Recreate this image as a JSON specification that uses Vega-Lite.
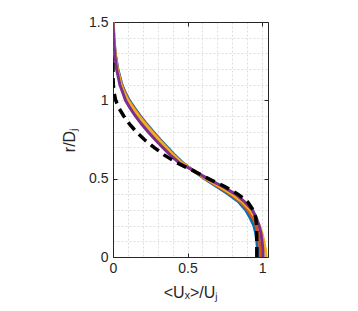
{
  "$schema": "https://vega.github.io/schema/vega-lite/v6.json",
  "autosize": {"type": "none"},
  "width": 155,
  "height": 235,
  "padding": {"left": 113, "top": 22, "right": 90, "bottom": 54},
  "background": "white",
  "config": {
    "view": {"stroke": null},
    "font": "Liberation Sans",
    "axis": {
      "labelFont": "Liberation Sans",
      "titleFont": "Liberation Sans",
      "labelFontSize": 14,
      "titleFontSize": 16,
      "titleFontWeight": "normal",
      "labelColor": "#262626",
      "titleColor": "#262626",
      "tickColor": "#262626",
      "labelFlush": false,
      "domain": true,
      "domainColor": "#262626",
      "domainWidth": 1,
      "gridColor": "#dedede",
      "gridDash": [2, 2],
      "gridWidth": 1
    }
  },
  "data": {"values": [
    {"s":"b","r":0,"u":0.972},{"s":"b","r":0.05,"u":0.97},{"s":"b","r":0.1,"u":0.965},{"s":"b","r":0.15,"u":0.958},{"s":"b","r":0.2,"u":0.945},{"s":"b","r":0.25,"u":0.92},{"s":"b","r":0.3,"u":0.89},{"s":"b","r":0.35,"u":0.845},{"s":"b","r":0.4,"u":0.775},{"s":"b","r":0.45,"u":0.695},{"s":"b","r":0.5,"u":0.615},{"s":"b","r":0.55,"u":0.54},{"s":"b","r":0.6,"u":0.47},{"s":"b","r":0.65,"u":0.415},{"s":"b","r":0.7,"u":0.365},{"s":"b","r":0.75,"u":0.316},{"s":"b","r":0.8,"u":0.27},{"s":"b","r":0.85,"u":0.225},{"s":"b","r":0.9,"u":0.183},{"s":"b","r":0.95,"u":0.145},{"s":"b","r":1.0,"u":0.11},{"s":"b","r":1.05,"u":0.082},{"s":"b","r":1.1,"u":0.06},{"s":"b","r":1.2,"u":0.032},{"s":"b","r":1.3,"u":0.015},{"s":"b","r":1.4,"u":0.006},{"s":"b","r":1.5,"u":0.002},
    {"s":"o","r":0,"u":0.99},{"s":"o","r":0.05,"u":0.988},{"s":"o","r":0.1,"u":0.982},{"s":"o","r":0.15,"u":0.974},{"s":"o","r":0.2,"u":0.96},{"s":"o","r":0.25,"u":0.938},{"s":"o","r":0.3,"u":0.905},{"s":"o","r":0.35,"u":0.857},{"s":"o","r":0.4,"u":0.788},{"s":"o","r":0.45,"u":0.705},{"s":"o","r":0.5,"u":0.62},{"s":"o","r":0.55,"u":0.54},{"s":"o","r":0.6,"u":0.466},{"s":"o","r":0.65,"u":0.41},{"s":"o","r":0.7,"u":0.36},{"s":"o","r":0.75,"u":0.311},{"s":"o","r":0.8,"u":0.265},{"s":"o","r":0.85,"u":0.22},{"s":"o","r":0.9,"u":0.178},{"s":"o","r":0.95,"u":0.14},{"s":"o","r":1.0,"u":0.105},{"s":"o","r":1.05,"u":0.078},{"s":"o","r":1.1,"u":0.057},{"s":"o","r":1.2,"u":0.03},{"s":"o","r":1.3,"u":0.014},{"s":"o","r":1.4,"u":0.005},{"s":"o","r":1.5,"u":0.001},
    {"s":"y","r":0,"u":1.028},{"s":"y","r":0.05,"u":1.022},{"s":"y","r":0.1,"u":1.012},{"s":"y","r":0.15,"u":1.0},{"s":"y","r":0.2,"u":0.982},{"s":"y","r":0.25,"u":0.955},{"s":"y","r":0.3,"u":0.92},{"s":"y","r":0.35,"u":0.87},{"s":"y","r":0.4,"u":0.8},{"s":"y","r":0.45,"u":0.715},{"s":"y","r":0.5,"u":0.625},{"s":"y","r":0.55,"u":0.542},{"s":"y","r":0.6,"u":0.462},{"s":"y","r":0.65,"u":0.405},{"s":"y","r":0.7,"u":0.355},{"s":"y","r":0.75,"u":0.306},{"s":"y","r":0.8,"u":0.26},{"s":"y","r":0.85,"u":0.215},{"s":"y","r":0.9,"u":0.173},{"s":"y","r":0.95,"u":0.135},{"s":"y","r":1.0,"u":0.1},{"s":"y","r":1.05,"u":0.074},{"s":"y","r":1.1,"u":0.054},{"s":"y","r":1.2,"u":0.028},{"s":"y","r":1.3,"u":0.013},{"s":"y","r":1.4,"u":0.005},{"s":"y","r":1.5,"u":0.001},
    {"s":"p","r":0,"u":1.007},{"s":"p","r":0.05,"u":1.005},{"s":"p","r":0.1,"u":1.0},{"s":"p","r":0.15,"u":0.993},{"s":"p","r":0.2,"u":0.98},{"s":"p","r":0.25,"u":0.962},{"s":"p","r":0.3,"u":0.935},{"s":"p","r":0.35,"u":0.885},{"s":"p","r":0.4,"u":0.825},{"s":"p","r":0.45,"u":0.735},{"s":"p","r":0.5,"u":0.635},{"s":"p","r":0.55,"u":0.545},{"s":"p","r":0.6,"u":0.445},{"s":"p","r":0.65,"u":0.385},{"s":"p","r":0.7,"u":0.333},{"s":"p","r":0.75,"u":0.282},{"s":"p","r":0.8,"u":0.235},{"s":"p","r":0.85,"u":0.19},{"s":"p","r":0.9,"u":0.15},{"s":"p","r":0.95,"u":0.115},{"s":"p","r":1.0,"u":0.084},{"s":"p","r":1.05,"u":0.065},{"s":"p","r":1.1,"u":0.046},{"s":"p","r":1.2,"u":0.024},{"s":"p","r":1.3,"u":0.011},{"s":"p","r":1.4,"u":0.004},{"s":"p","r":1.5,"u":0.0},
    {"s":"k","r":0,"u":0.965},{"s":"k","r":0.1,"u":0.965},{"s":"k","r":0.2,"u":0.963},{"s":"k","r":0.25,"u":0.958},{"s":"k","r":0.3,"u":0.94},{"s":"k","r":0.35,"u":0.905},{"s":"k","r":0.4,"u":0.84},{"s":"k","r":0.45,"u":0.75},{"s":"k","r":0.5,"u":0.64},{"s":"k","r":0.55,"u":0.54},{"s":"k","r":0.6,"u":0.43},{"s":"k","r":0.65,"u":0.345},{"s":"k","r":0.7,"u":0.275},{"s":"k","r":0.75,"u":0.21},{"s":"k","r":0.8,"u":0.155},{"s":"k","r":0.85,"u":0.11},{"s":"k","r":0.9,"u":0.072},{"s":"k","r":0.95,"u":0.04},{"s":"k","r":1.0,"u":0.018},{"s":"k","r":1.05,"u":0.007},{"s":"k","r":1.1,"u":0.002},{"s":"k","r":1.15,"u":0.0},{"s":"k","r":1.24,"u":0.0}
  ]},
  "resolve": {"axis": {"x": "independent", "y": "independent"}},
  "layer": [
    {
      "transform": [{"filter": "datum.s !== 'k'"}],
      "mark": {"type": "line", "strokeWidth": 3, "clip": true},
      "encoding": {
        "x": {"field": "u", "type": "quantitative",
          "scale": {"domain": [0, 1.04], "nice": false, "zero": false},
          "axis": {"orient": "bottom", "values": [0,0.1,0.2,0.3,0.4,0.5,0.6,0.7,0.8,0.9,1.0], "format": "~g",
            "labelExpr": "abs(datum.value*2 - round(datum.value*2)) < 0.001 ? datum.label : ''",
            "tickOpacity": {"condition": {"test": "abs(datum.value*2 - round(datum.value*2)) < 0.001", "value": 1}, "value": 0},
            "tickSize": -4, "labelPadding": 8, "grid": true, "title": "<Uₓ>/Uⱼ", "titlePadding": 9}},
        "y": {"field": "r", "type": "quantitative",
          "scale": {"domain": [0, 1.5], "nice": false, "zero": false},
          "axis": {"orient": "left", "values": [0,0.1,0.2,0.3,0.4,0.5,0.6,0.7,0.8,0.9,1.0,1.1,1.2,1.3,1.4,1.5], "format": "~g",
            "labelExpr": "abs(datum.value*2 - round(datum.value*2)) < 0.001 ? datum.label : ''",
            "tickOpacity": {"condition": {"test": "abs(datum.value*2 - round(datum.value*2)) < 0.001", "value": 1}, "value": 0},
            "tickSize": -4, "labelPadding": 9, "grid": true, "title": "r/Dⱼ", "titlePadding": 11}},
        "color": {"field": "s", "type": "nominal",
          "scale": {"domain": ["b", "o", "y", "p"], "range": ["#0072BD", "#D95319", "#EDB120", "#7E2F8E"]},
          "legend": null},
        "order": {"field": "r", "type": "quantitative"}
      }
    },
    {
      "transform": [{"filter": "datum.s === 'k'"}],
      "mark": {"type": "line", "strokeWidth": 3.5, "color": "#000000", "strokeDash": [10, 6], "clip": true},
      "encoding": {
        "x": {"field": "u", "type": "quantitative", "axis": null},
        "y": {"field": "r", "type": "quantitative", "axis": null},
        "order": {"field": "r", "type": "quantitative"}
      }
    },
    {
      "mark": {"type": "point", "opacity": 0},
      "encoding": {
        "x": {"field": "u", "type": "quantitative",
          "axis": {"orient": "top", "values": [0, 0.5, 1], "labels": false, "grid": false, "tickSize": -4, "title": null}},
        "y": {"field": "r", "type": "quantitative",
          "axis": {"orient": "right", "values": [0, 0.5, 1, 1.5], "labels": false, "grid": false, "tickSize": -4, "title": null}}
      }
    }
  ]
}
